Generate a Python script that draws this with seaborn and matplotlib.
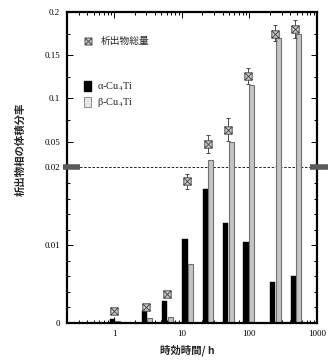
import numpy as np
import matplotlib
matplotlib.use("Agg")
import matplotlib.pyplot as plt
import matplotlib.transforms as mtransforms
from matplotlib.path import Path
from matplotlib.patches import Patch
from matplotlib.lines import Line2D
from matplotlib.ticker import FixedLocator, NullFormatter
import seaborn as sns

OUT = "out.png"

# aging time (h)
times = [1, 3, 6, 12, 24, 48, 96, 240, 480]
# volume fraction of precipitates
alpha_frac = [0.0005, 0.0015, 0.0028, 0.0108, 0.0172, 0.0129, 0.0104, 0.0053, 0.0060]
beta_frac = [0.0002, 0.0006, 0.0008, 0.0076, 0.0290, 0.0490, 0.1160, 0.1700, 0.1740]
total_frac = [0.0015, 0.0021, 0.0037, 0.0183, 0.0477, 0.0635, 0.1260, 0.1750, 0.1805]
total_lo = [0.0013, 0.0019, 0.0034, 0.0172, 0.0370, 0.0510, 0.1170, 0.1660, 0.1700]
total_hi = [0.0017, 0.0023, 0.0040, 0.0192, 0.0580, 0.0770, 0.1350, 0.1850, 0.1910]

y_ticks = [0, 0.01, 0.02, 0.05, 0.1, 0.15, 0.2]
y_ticklabels = ["0", "0.01", "0.02", "0.05", "0.1", "0.15", "0.2"]
y_minor = [0.002, 0.004, 0.006, 0.008, 0.012, 0.014, 0.016, 0.018,
           0.075, 0.125, 0.175]
x_ticks = [1, 10, 100, 1000]
x_ticklabels = ["1", "10", "100", "1000"]

labels = ["析出物総量", r"α-Cu$_4$Ti", r"β-Cu$_4$Ti"]
xlabel = "時効時間/ h"
ylabel = "析出物相の体積分率"

BREAK = 0.02
YMAX = 0.2


def fwd(y):
    y = np.asarray(y, dtype=float)
    return np.where(y <= BREAK, y / BREAK, 1 + (y - BREAK) / (YMAX - BREAK))


def inv(f):
    f = np.asarray(f, dtype=float)
    return np.where(f <= 1, f * BREAK, BREAK + (f - 1) * (YMAX - BREAK))


def main():
    sns.set_style("ticks")
    plt.rcParams["font.family"] = ["Liberation Serif", "Noto Sans CJK JP", "DejaVu Sans"]
    plt.rcParams["mathtext.fontset"] = "stix"

    fig = plt.figure(figsize=(3.36, 3.6), dpi=100)
    ax = fig.add_axes([0.1994, 0.1028, 0.7441, 0.8639])

    ax.set_xscale("log")
    ax.set_yscale("function", functions=(fwd, inv))

    t = np.array(times, dtype=float)
    w = 0.075
    left_a = t * 10 ** (-0.07)
    left_b = t * 10 ** (0.012)
    ax.bar(left_a, alpha_frac, width=left_a * (10 ** w - 1), align="edge",
           color="black", edgecolor="black", linewidth=0.3, zorder=2)
    ax.bar(left_b, beta_frac, width=left_b * (10 ** w - 1), align="edge",
           color="#c4c4c4", edgecolor="#707070", linewidth=0.8, zorder=2)

    ax.axhline(BREAK, color="black", lw=0.6, ls=(0, (3, 2)), zorder=1)

    tot = np.array(total_frac)
    yerr = [tot - np.array(total_lo), np.array(total_hi) - tot]
    ax.errorbar(times, total_frac, yerr=yerr, fmt="none", ecolor="#4a4a4a",
                elinewidth=0.7, capsize=1.5, capthick=0.7, zorder=3)

    boxx = Path(
        [(-1, -1), (1, -1), (1, 1), (-1, 1), (-1, -1),
         (-1, -1), (1, 1), (-1, 1), (1, -1)],
        [Path.MOVETO, Path.LINETO, Path.LINETO, Path.LINETO, Path.CLOSEPOLY,
         Path.MOVETO, Path.LINETO, Path.MOVETO, Path.LINETO],
    )
    sns.scatterplot(x=times, y=total_frac, marker=boxx, s=28, color="#d0d0d0",
                    edgecolor="#4a4a4a", linewidth=0.7, zorder=4, ax=ax)

    ax.set_xlim(0.2, 1000)
    ax.set_ylim(0, YMAX)

    ax.set_xticks(x_ticks)
    ax.set_xticklabels(x_ticklabels)
    ax.set_yticks(y_ticks)
    ax.set_yticklabels(y_ticklabels)
    ax.yaxis.set_minor_locator(FixedLocator(y_minor))
    ax.yaxis.set_minor_formatter(NullFormatter())
    ax.xaxis.set_minor_formatter(NullFormatter())

    ax.tick_params(which="both", direction="in", top=True, right=True,
                   width=0.7, colors="black", labelsize=6.5)
    ax.tick_params(which="major", length=4, pad=5)
    ax.tick_params(which="minor", length=2)
    for sp in ax.spines.values():
        sp.set_linewidth(1.6)
        sp.set_color("black")

    # axis-break marks at 0.02
    tr = mtransforms.blended_transform_factory(ax.transAxes, ax.transData)
    for x0, x1 in [(-0.016, 0.052), (0.972, 1.044)]:
        ax.plot([x0, x1], [BREAK, BREAK], transform=tr, color="#5a5a5a",
                lw=4, solid_capstyle="butt", clip_on=False, zorder=5)

    jp = ["Noto Sans CJK JP", "DejaVu Sans"]
    ax.set_xlabel(xlabel, family=jp, fontsize=7.5, fontweight="bold")
    ax.xaxis.set_label_coords(0.48, -0.068)
    ax.set_ylabel(ylabel, family=jp, fontsize=7.5, fontweight="bold")
    ax.yaxis.set_label_coords(-0.165, 0.56)

    h_tot = Line2D([], [], marker=boxx, linestyle="none", markersize=5,
                   markerfacecolor="#d0d0d0", markeredgecolor="#4a4a4a",
                   markeredgewidth=0.7)
    leg1 = ax.legend([h_tot], [labels[0]], loc="upper left",
                     bbox_to_anchor=(0.03, 0.95), frameon=False,
                     handlelength=1.0, handletextpad=0.8,
                     prop={"family": jp, "size": 7})
    ax.add_artist(leg1)

    h_a = Patch(facecolor="black", edgecolor="black")
    h_b = Patch(facecolor="#e6e6e6", edgecolor="#8a8a8a", linewidth=0.7)
    ax.legend([h_a, h_b], labels[1:], loc="upper left",
              bbox_to_anchor=(0.03, 0.81), frameon=False,
              handlelength=0.7, handleheight=1.1, handletextpad=0.6,
              labelspacing=0.3, prop={"size": 7.5})

    fig.savefig(OUT, dpi=100)
    plt.close(fig)


if __name__ == "__main__":
    main()
